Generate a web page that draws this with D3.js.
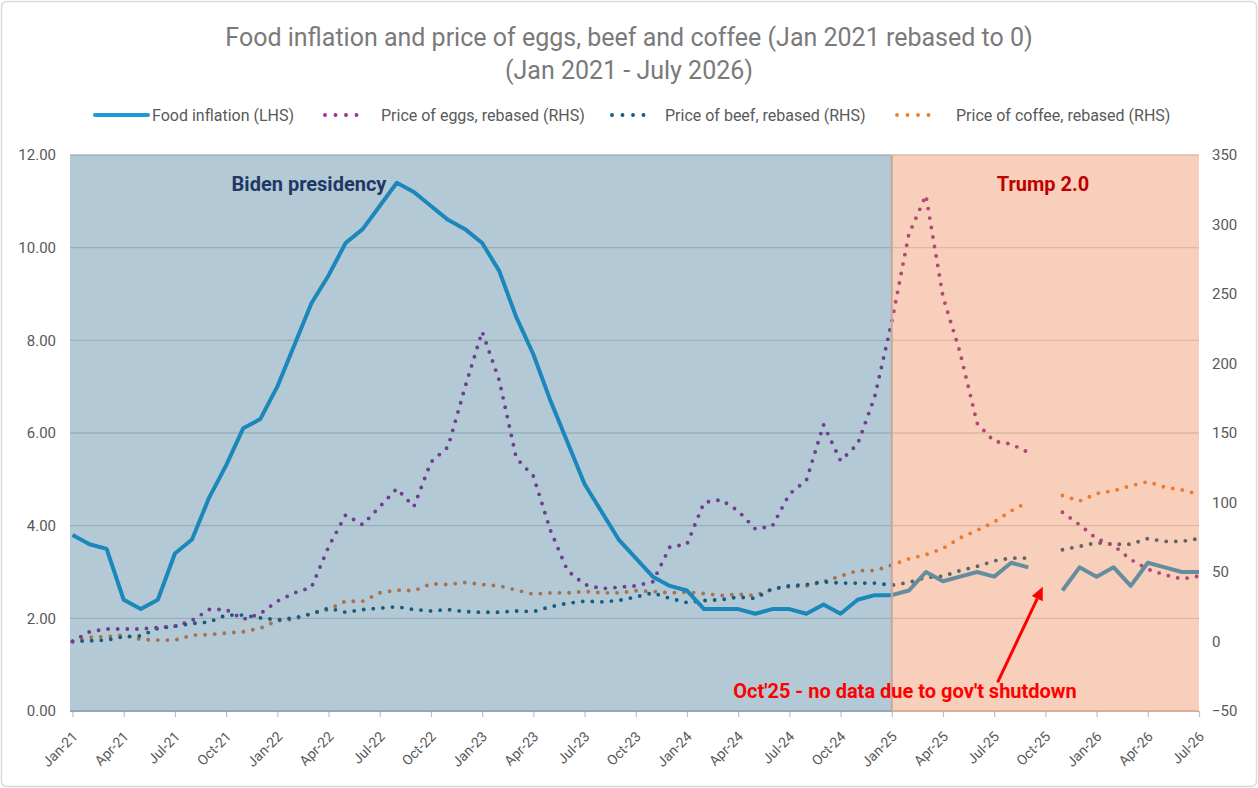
<!DOCTYPE html>
<html><head><meta charset="utf-8">
<script src="https://cdn.jsdelivr.net/npm/d3@7"></script>
<style>
body{margin:0;background:#fff}
svg{display:block}
text{font-family:Roboto,"Open Sans",sans-serif}
</style>
</head><body>
<svg id="chart" width="1258" height="788"></svg>
<script>
// ---------- DATA ----------
const months = [
 "Jan-21","Feb-21","Mar-21","Apr-21","May-21","Jun-21","Jul-21","Aug-21","Sep-21","Oct-21","Nov-21","Dec-21",
 "Jan-22","Feb-22","Mar-22","Apr-22","May-22","Jun-22","Jul-22","Aug-22","Sep-22","Oct-22","Nov-22","Dec-22",
 "Jan-23","Feb-23","Mar-23","Apr-23","May-23","Jun-23","Jul-23","Aug-23","Sep-23","Oct-23","Nov-23","Dec-23",
 "Jan-24","Feb-24","Mar-24","Apr-24","May-24","Jun-24","Jul-24","Aug-24","Sep-24","Oct-24","Nov-24","Dec-24",
 "Jan-25","Feb-25","Mar-25","Apr-25","May-25","Jun-25","Jul-25","Aug-25","Sep-25","Oct-25","Nov-25","Dec-25",
 "Jan-26","Feb-26","Mar-26","Apr-26","May-26","Jun-26","Jul-26"];

const xTickLabels = ["Jan-21","Apr-21","Jul-21","Oct-21","Jan-22","Apr-22","Jul-22","Oct-22",
 "Jan-23","Apr-23","Jul-23","Oct-23","Jan-24","Apr-24","Jul-24","Oct-24",
 "Jan-25","Apr-25","Jul-25","Oct-25","Jan-26","Apr-26","Jul-26"];

const leftTicks = [0, 2, 4, 6, 8, 10, 12];
const rightTicks = [-50, 0, 50, 100, 150, 200, 250, 300, 350];

// Food inflation (LHS, %)
const foodInflation = [
 3.8,3.6,3.5,2.4,2.2,2.4,3.4,3.7,4.6,5.3,6.1,6.3,
 7.0,7.9,8.8,9.4,10.1,10.4,10.9,11.4,11.2,10.9,10.6,10.4,
 10.1,9.5,8.5,7.7,6.7,5.8,4.9,4.3,3.7,3.3,2.9,2.7,
 2.6,2.2,2.2,2.2,2.1,2.2,2.2,2.1,2.3,2.1,2.4,2.5,
 2.5,2.6,3.0,2.8,2.9,3.0,2.9,3.2,3.1,null,2.6,3.1,
 2.9,3.1,2.7,3.2,3.1,3.0,3.0];

// Price of eggs, rebased (RHS)
const eggs = [
 0,7,9,9,9,10,11,15,23,23,16,20,
 29,35,39,68,91,84,97,110,97,129,140,183,
 223,188,132,119,80,51,41,38,39,40,43,68,
 70,100,102,94,81,83,106,116,156,130,142,176,
 230,293,321,248,208,157,144,142,136,null,93,84,
 74,69,59,52,48,45,47];

// Price of beef, rebased (RHS)
const beef = [
 0,0.5,1,3.5,4,9.5,11,13,14,19,19,17,
 15.5,17,20,24,21,23,24,25,23,22,23,21.5,
 21,21,22,21.5,25,27.5,29,28.5,29.5,32,35,31,
 28,29.5,30,32,31,38,40,41,43,42,42,42,
 40.5,42.5,46,47,51,54,58,60,60,null,66,68.5,
 71,70,70,74,72,72,74];

// Price of coffee, rebased (RHS)
const coffee = [
 0,3,3.5,4.5,1.5,1,1,4.5,5,6,7,9.5,
 15,16,20,23,29,29,35,37,36.5,41.5,41,42.5,
 41,40,37,34,35,35,36,35,35,36.5,36,35,
 35.5,34.5,33,34,33,37.5,39.5,40,43,47,51,51,
 55,59.5,62.5,67,74.5,80,86,94,100.5,null,105,101,
 106.5,108.5,112,115,111,109,106];

const seriesNames = ["Food inflation (LHS)","Price of eggs, rebased (RHS)","Price of beef, rebased (RHS)","Price of coffee, rebased (RHS)"];
const trumpStart = "Jan-25";
const shutdownMonth = "Oct-25";

// ---------- LAYOUT ----------
const svg = d3.select("#chart");
const W = 1258, H = 788;
const plot = {left:70, right:1199, top:155, bottom:711};

const x = d3.scaleLinear().domain([0, months.length-1]).range([72.5, plot.right]);
const yL = d3.scaleLinear().domain([0, 12]).range([plot.bottom, plot.top]);
const yR = d3.scaleLinear().domain([-50, 350]).range([plot.bottom, plot.top]);

const colors = {food:"#1E9BD7", eggs:"#9A2F9A", beef:"#175A80", coffee:"#ED7D31"};
const axisText = "#595959";

// outer frame
svg.append("rect").attr("x",1.5).attr("y",1.5).attr("width",W-3).attr("height",H-3)
  .attr("rx",5).attr("fill","#fff").attr("stroke","#d9d9d9").attr("stroke-width",1.5);

// title
svg.append("text").attr("x",629).attr("y",46).attr("text-anchor","middle")
  .attr("font-size",25).attr("fill","#7a7a7a")
  .text("Food inflation and price of eggs, beef and coffee (Jan 2021 rebased to 0)");
svg.append("text").attr("x",629).attr("y",79).attr("text-anchor","middle")
  .attr("font-size",25).attr("fill","#7a7a7a")
  .text("(Jan 2021 - July 2026)");

// gridlines
svg.append("g").selectAll("line").data(leftTicks.filter(d=>d>0)).join("line")
  .attr("x1",plot.left).attr("x2",plot.right)
  .attr("y1",d=>yL(d)).attr("y2",d=>yL(d))
  .attr("stroke","#d9d9d9").attr("stroke-width",1.4);

// x axis
const xAxis = d3.axisBottom(x)
  .tickValues(xTickLabels.map(l => months.indexOf(l)))
  .tickFormat(d => months[d])
  .tickSize(6).tickSizeOuter(0);
const gx = svg.append("g").attr("transform",`translate(0,${plot.bottom})`).call(xAxis);
gx.select(".domain").attr("d",`M${plot.left},0H${plot.right}`).attr("stroke","#bfbfbf").attr("stroke-width",1.5);
gx.selectAll(".tick line").attr("stroke","#bfbfbf").attr("stroke-width",1.2);
gx.selectAll(".tick text")
  .attr("x",0).attr("y",0).attr("dy","0.35em")
  .attr("transform","translate(2,23) rotate(-45)")
  .style("text-anchor","end")
  .attr("font-size",14).attr("font-family","Roboto").attr("fill",axisText);

// lines
const lineL = d3.line().defined(d=>d.v!=null).x(d=>x(d.i)).y(d=>yL(d.v));
const lineR = d3.line().defined(d=>d.v!=null).x(d=>x(d.i)).y(d=>yR(d.v));
const toPts = arr => arr.map((v,i)=>({i,v}));

const dotted = {"stroke-width":3.9,"stroke-dasharray":"0 9.6","stroke-linecap":"round"};
function addDotted(arr, col){
  const p = svg.append("path").datum(toPts(arr)).attr("d",lineR)
    .attr("fill","none").attr("stroke",col);
  for (const k in dotted) p.attr(k,dotted[k]);
}
addDotted(coffee, colors.coffee);
addDotted(beef, colors.beef);
addDotted(eggs, colors.eggs);

svg.append("path").datum(toPts(foodInflation)).attr("d",lineL)
  .attr("fill","none").attr("stroke",colors.food).attr("stroke-width",4)
  .attr("stroke-linejoin","round").attr("stroke-linecap","butt");

// presidency overlays
const xT = x(months.indexOf(trumpStart));
svg.append("rect").attr("x",plot.left).attr("y",plot.top-0.5)
  .attr("width",xT-plot.left).attr("height",plot.bottom-plot.top+1.5)
  .attr("fill","rgb(24,94,131)").attr("fill-opacity",0.33);
svg.append("rect").attr("x",xT).attr("y",plot.top-0.5)
  .attr("width",plot.right-xT).attr("height",plot.bottom-plot.top+1.5)
  .attr("fill","rgb(232,117,58)").attr("fill-opacity",0.35);
svg.append("line").attr("x1",xT).attr("x2",xT).attr("y1",plot.top).attr("y2",plot.bottom)
  .attr("stroke","rgb(196,168,156)").attr("stroke-width",2);

// left axis
const gl = svg.append("g").attr("transform",`translate(62,0)`)
  .call(d3.axisLeft(yL).tickValues(leftTicks).tickFormat(d3.format(".2f")).tickSize(0).tickPadding(6));
gl.select(".domain").remove();
gl.selectAll("text").attr("font-size",15).attr("font-family","Roboto").attr("fill",axisText);

// right axis
const gr = svg.append("g").attr("transform",`translate(1206,0)`)
  .call(d3.axisRight(yR).tickValues(rightTicks).tickFormat(d3.format("d")).tickSize(0).tickPadding(6));
gr.select(".domain").remove();
gr.selectAll("text").attr("font-size",15).attr("font-family","Roboto").attr("fill",axisText);

// annotations
svg.append("text").attr("x",309).attr("y",191).attr("text-anchor","middle")
  .attr("font-size",20).attr("font-weight","bold").attr("fill","#1F3864").text("Biden presidency");
svg.append("text").attr("x",1043).attr("y",191).attr("text-anchor","middle")
  .attr("font-size",20).attr("font-weight","bold").attr("fill","#C00000").text("Trump 2.0");
svg.append("text").attr("x",905).attr("y",698).attr("text-anchor","middle")
  .attr("font-size",20).attr("font-weight","bold").attr("fill","#FF0000")
  .text("Oct'25 - no data due to gov't shutdown");

// arrow
const iShut = months.indexOf(shutdownMonth);
const ax0 = x(iShut-2.8), ay0 = yL(0.62), ax1 = x(iShut-0.15), ay1 = yL(2.68);
const ang = Math.atan2(ay1-ay0, ax1-ax0);
const hl = 13, hw = 6;
const bx = ax1 - hl*Math.cos(ang), by = ay1 - hl*Math.sin(ang);
svg.append("line").attr("x1",ax0).attr("y1",ay0).attr("x2",bx).attr("y2",by)
  .attr("stroke","#FF0000").attr("stroke-width",3);
svg.append("polygon").attr("fill","#FF0000")
  .attr("points",[[ax1,ay1],[bx+hw*Math.sin(ang),by-hw*Math.cos(ang)],[bx-hw*Math.sin(ang),by+hw*Math.cos(ang)]].map(p=>p.join(",")).join(" "));

// legend
const lg = svg.append("g");
const ly = 115;
const legendItems = [
  {name:seriesNames[0], col:colors.food, x0:95, x1:148, tx:152, solid:true},
  {name:seriesNames[1], col:colors.eggs, x0:325, x1:367, tx:381},
  {name:seriesNames[2], col:colors.beef, x0:612, x1:654, tx:665},
  {name:seriesNames[3], col:colors.coffee, x0:897, x1:939, tx:956}
];
legendItems.forEach(it=>{
  const l = lg.append("line").attr("x1",it.x0).attr("x2",it.x1).attr("y1",ly).attr("y2",ly).attr("stroke",it.col);
  if (it.solid) l.attr("stroke-width",4).attr("stroke-linecap","round");
  else l.attr("stroke-width",3.9).attr("stroke-dasharray","0 10.5").attr("stroke-linecap","round");
  lg.append("text").attr("x",it.tx).attr("y",ly).attr("dy","0.35em")
    .attr("font-size",16).attr("fill",axisText).text(it.name);
});
</script>
</body></html>
